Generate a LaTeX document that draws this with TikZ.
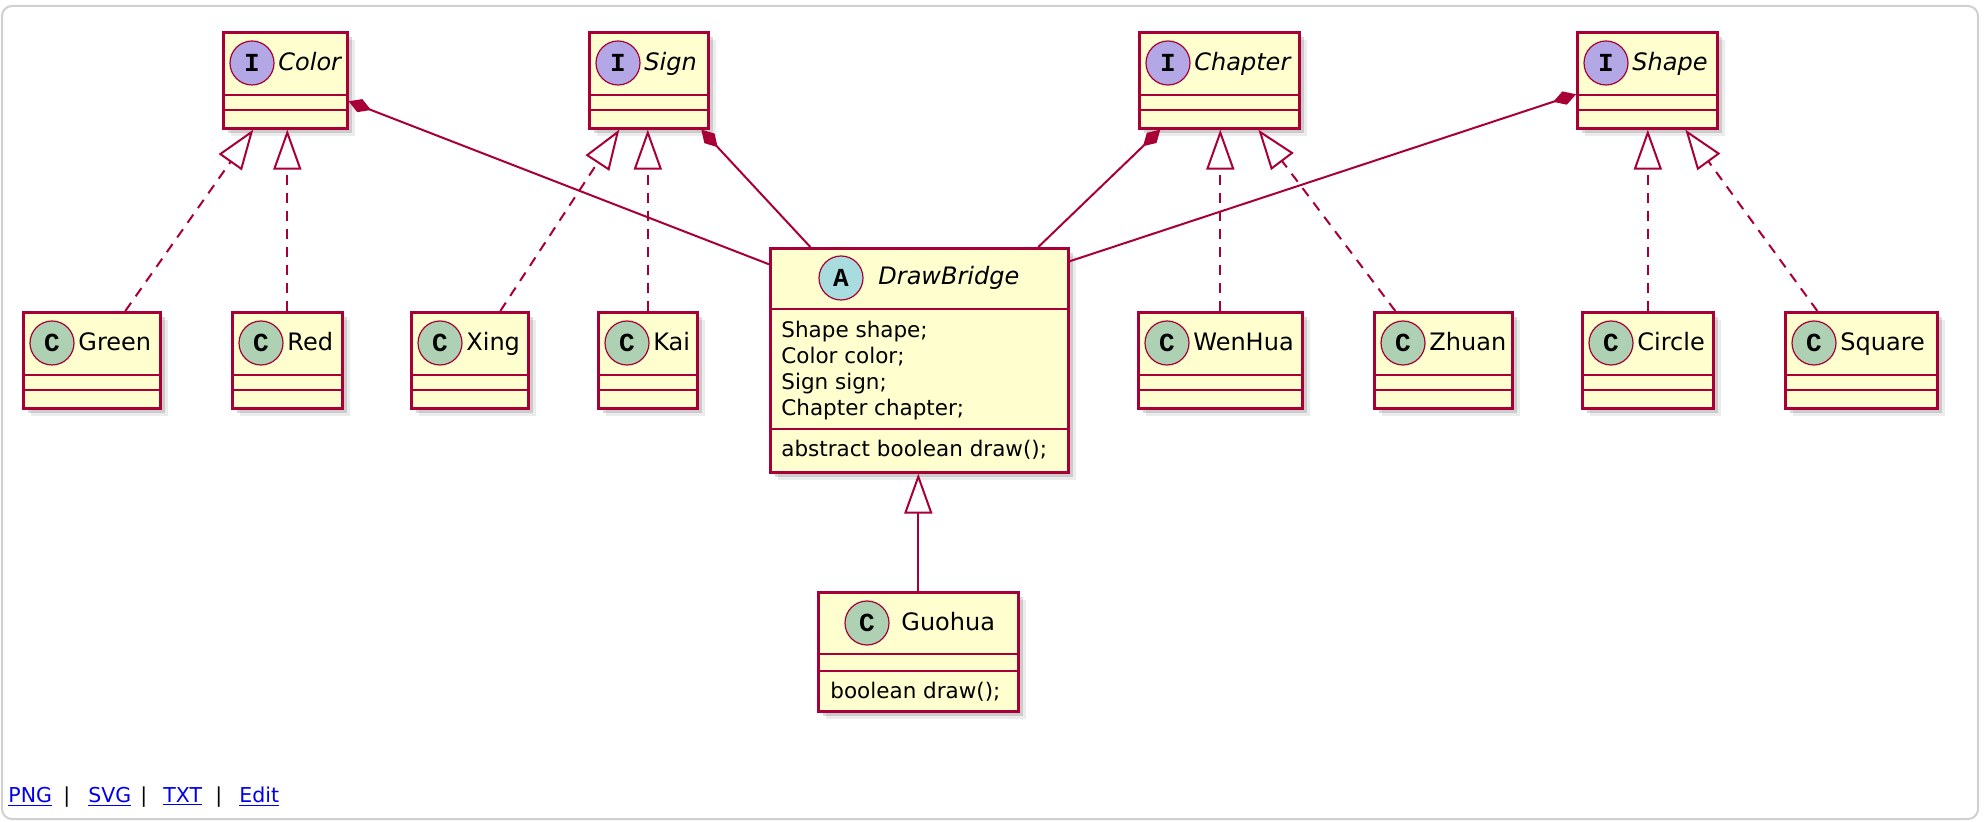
\documentclass[tikz,border=0pt]{standalone}
\usepackage{fontspec}
\setmainfont{DejaVu Sans}
\newfontfamily\circfont{Liberation Mono}
\usetikzlibrary{arrows.meta}
\usetikzlibrary{shadows}
\definecolor{boxfill}{HTML}{FEFECE}
\definecolor{border}{HTML}{A80036}
\definecolor{ifill}{HTML}{B4A7E5}
\definecolor{cfill}{HTML}{ADD1B2}
\definecolor{afill}{HTML}{A9DCDF}
\definecolor{linkblue}{HTML}{0000EE}
\definecolor{frame}{HTML}{D0D0D0}
% one class box: name, left, right, top, circle fill, letter, title
\newcommand{\umlclass}[7]{%
	\node[classbox, minimum width={(#3-#2)*0.5pt}] (#1) at (#2,#4) {};
	\draw[sepline] ([yshift=-32pt]#1.north west) -- ([yshift=-32pt]#1.north east);
	\draw[sepline] ([yshift=-39.5pt]#1.north west) -- ([yshift=-39.5pt]#1.north east);
	\node[letter, fill=#5] (#1-c) at (#2+30,#4+32) {#6};
	\node[classname] (#1-t) at (#2+56,#4+40) {#7};
}

\begin{document}
\begin{tikzpicture}[x=0.5pt, y=-0.5pt,
	classbox/.style={draw=border, line width=1.3pt, fill=boxfill, anchor=north west,
		minimum height=48pt, inner sep=0pt,
		drop shadow={shadow xshift=4pt, shadow yshift=-4pt, fill=black!50, opacity=.15},
		drop shadow={shadow xshift=2.5pt, shadow yshift=-2.5pt, fill=black!50, opacity=.3}},
	sepline/.style={draw=border, line width=1.3pt},
	letter/.style={circle, draw=border, line width=0.6pt, minimum size=22pt, inner sep=0pt,
		font=\circfont\bfseries\fontsize{13}{14}\selectfont},
	classname/.style={anchor=base west, inner sep=0pt, font=\fontsize{12}{14}\selectfont},
	field/.style={anchor=base west, inner sep=0pt, font=\fontsize{10.75}{13}\selectfont},
	realize/.style={draw=border, line width=1pt, dash pattern=on 5pt off 4pt,
		-{Triangle[open, length=20pt, width=14pt, fill=white]}},
	extend/.style={draw=border, line width=1pt, -{Triangle[open, length=20pt, width=14pt, fill=white]}},
	comp/.style={draw=border, line width=1pt, -{Diamond[length=12pt, width=7pt]}},
	link/.style={anchor=base west, inner sep=0pt, text=linkblue, font=\fontsize{10.25}{12}\selectfont},
	bar/.style={anchor=base west, inner sep=0pt, font=\fontsize{10.25}{12}\selectfont}]
	\useasboundingbox (0,0) rectangle (1984,822);
	\draw[frame, line width=1pt, rounded corners=5pt] (2,6) rectangle (1978,819);
	% interfaces
	\umlclass{color}{222}{346}{31}{ifill}{I}{\itshape Color}
	\umlclass{sign}{588}{707}{31}{ifill}{I}{\itshape Sign}
	\umlclass{chapter}{1138}{1298}{31}{ifill}{I}{\itshape Chapter}
	\umlclass{shape}{1576}{1716}{31}{ifill}{I}{\itshape Shape}
	% implementations
	\umlclass{green}{22}{159}{311}{cfill}{C}{Green}
	\umlclass{red}{231}{341}{311}{cfill}{C}{Red}
	\umlclass{xing}{410}{527}{311}{cfill}{C}{Xing}
	\umlclass{kai}{597}{696}{311}{cfill}{C}{Kai}
	\umlclass{wenhua}{1137}{1301}{311}{cfill}{C}{WenHua}
	\umlclass{zhuan}{1373}{1511}{311}{cfill}{C}{Zhuan}
	\umlclass{circ}{1581}{1712}{311}{cfill}{C}{Circle}
	\umlclass{square}{1784}{1936}{311}{cfill}{C}{Square}
	% abstract bridge
	\node[classbox, minimum width=149pt, minimum height=112pt] (bridge) at (769,247) {};
	\draw[sepline] ([yshift=-31pt]bridge.north west) -- ([yshift=-31pt]bridge.north east);
	\draw[sepline] ([yshift=-91pt]bridge.north west) -- ([yshift=-91pt]bridge.north east);
	\node[letter, fill=afill] (bridge-c) at (841,278) {A};
	\node[classname] (bridge-t) at (878,285) {\itshape DrawBridge};
	\foreach \t [count=\i] in {Shape shape;, Color color;, Sign sign;, Chapter chapter;}
		\node[field] (bridge-f\i) at (781,312+26*\i) {\t};
	\node[field] (bridge-m) at (781,457) {abstract boolean draw();};
	% refined
	\node[classbox, minimum width=100pt, minimum height=59.5pt] (guohua) at (817,591) {};
	\draw[sepline] ([yshift=-31.5pt]guohua.north west) -- ([yshift=-31.5pt]guohua.north east);
	\draw[sepline] ([yshift=-40pt]guohua.north west) -- ([yshift=-40pt]guohua.north east);
	\node[letter, fill=cfill] (guohua-c) at (867,623) {C};
	\node[classname] (guohua-t) at (901,630) {Guohua};
	\node[field] (guohua-m) at (830,698) {boolean draw();};
	% realizations
	\draw[realize] ([xshift=16.75pt]green.north) -- ([xshift=-16pt]color.south);
	\draw[realize] (red.north) -- (red.north |- color.south);
	\draw[realize] ([xshift=15.25pt]xing.north) -- ([xshift=-14.75pt]sign.south);
	\draw[realize] (kai.north) -- (kai.north |- sign.south);
	\draw[realize] (wenhua.north) -- (wenhua.north |- chapter.south);
	\draw[realize] ([xshift=-24pt]zhuan.north) -- ([xshift=19.5pt]chapter.south);
	\draw[realize] (circ.north) -- (circ.north |- shape.south);
	\draw[realize] ([xshift=-22pt]square.north) -- ([xshift=19pt]shape.south);
	% compositions
	\draw[comp] ([yshift=48pt]bridge.west) -- ([yshift=-10.5pt]color.east);
	\draw[comp] ([xshift=-54.5pt]bridge.north) -- ([xshift=26.25pt]sign.south);
	\draw[comp] ([xshift=59.5pt]bridge.north) -- ([xshift=-29.5pt]chapter.south);
	\draw[comp] ([yshift=49.5pt]bridge.east) -- ([yshift=-7pt]shape.west);
	% extension
	\draw[extend] (guohua.north) -- (guohua.north |- bridge.south);
	% links
	\node[link] (png) at (8,802) {\underline{PNG}};
	\node[bar] (bar1) at (63,802) {|};
	\node[link] (svg) at (88,802) {\underline{SVG}};
	\node[bar] (bar2) at (140,802) {|};
	\node[link] (txt) at (163,802) {\underline{TXT}};
	\node[bar] (bar3) at (215,802) {|};
	\node[link] (edit) at (239,802) {\underline{Edit}};
\end{tikzpicture}
\end{document}
